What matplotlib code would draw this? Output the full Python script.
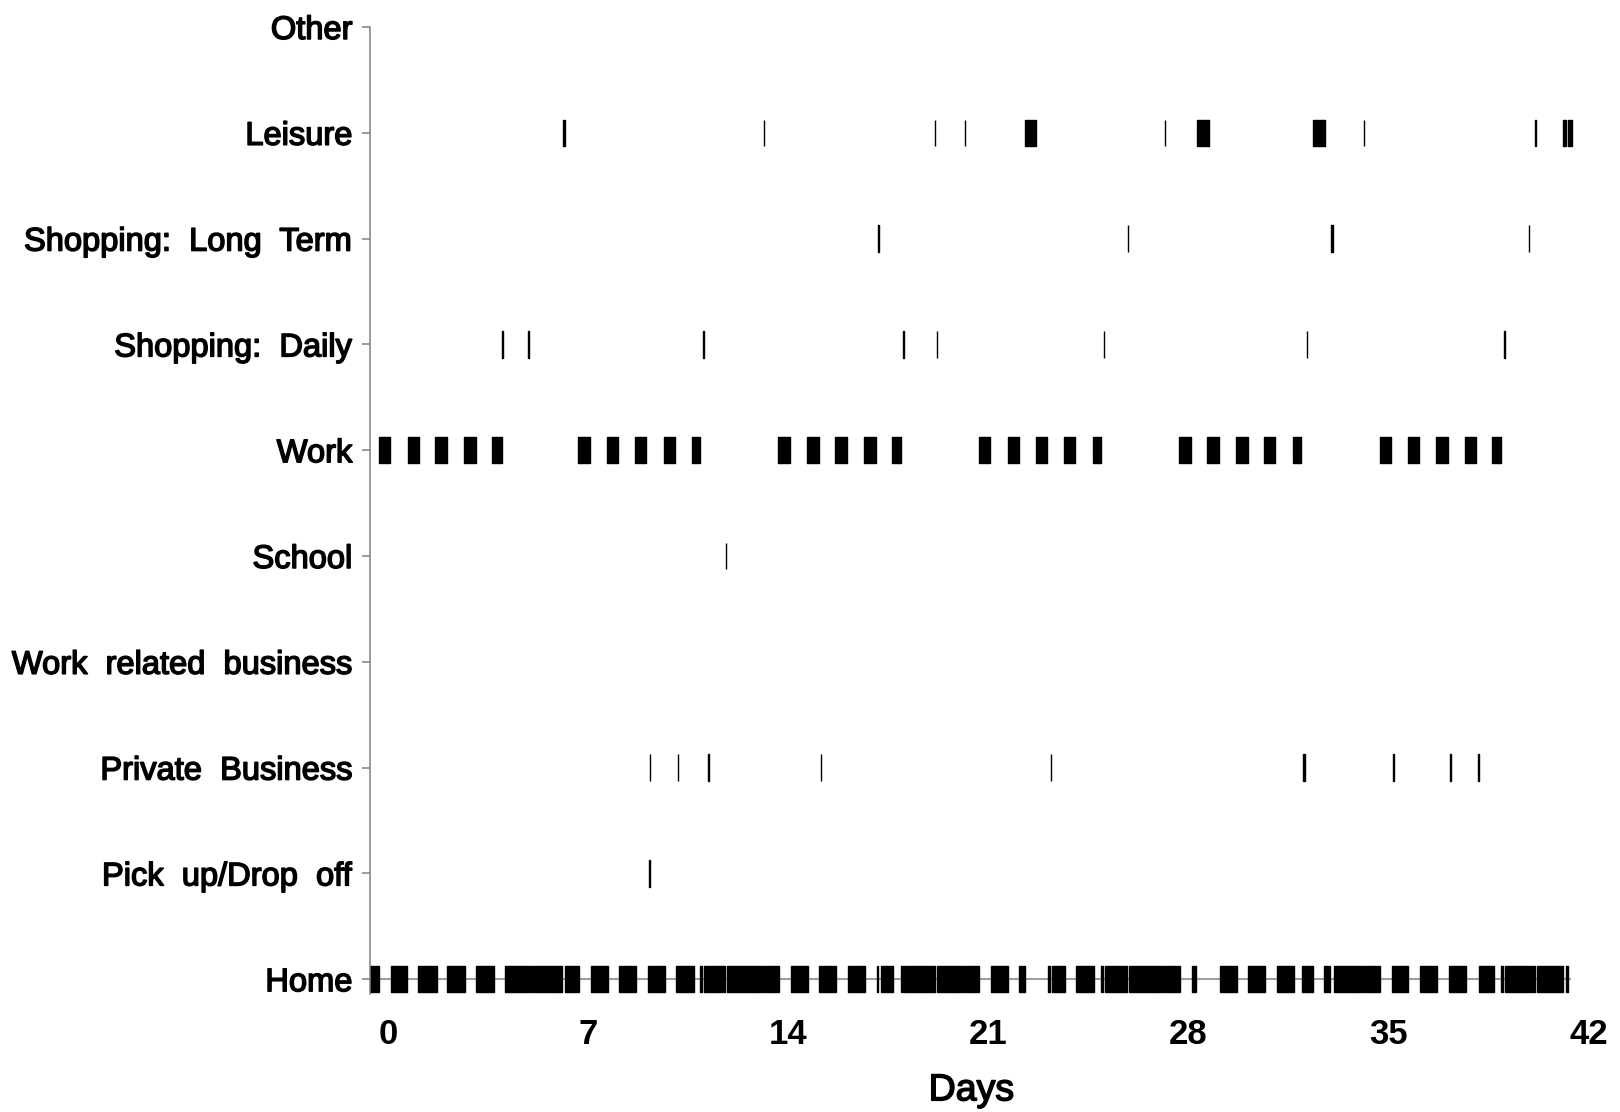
import matplotlib
matplotlib.use("Agg")
import matplotlib.pyplot as plt
import matplotlib.patheffects as pe
from matplotlib.pyplot import rcParams

# activity rows, bottom to top
activities = ["Home", "Pick  up/Drop  off", "Private  Business", "Work  related  business",
              "School", "Work", "Shopping:  Daily", "Shopping:  Long  Term", "Leisure", "Other"]

# episodes as (start, end) in days
home = [(-0.63, -0.30), (0.09, 0.68), (1.06, 1.70), (2.08, 2.69), (3.07, 3.70),
        (4.08, 4.25), (4.25, 4.89), (4.94, 5.78), (5.78, 6.10), (6.19, 6.69),
        (7.09, 7.69), (8.07, 8.69), (9.09, 9.68), (10.08, 10.69), (10.91, 10.99),
        (11.07, 11.80), (11.87, 12.78), (12.78, 13.13), (13.17, 13.67),
        (14.10, 14.69), (15.09, 15.68), (16.10, 16.68), (17.09, 17.13), (17.23, 17.67),
        (17.94, 18.01), (18.06, 18.74), (18.74, 19.13), (19.22, 19.77), (19.77, 20.14),
        (20.20, 20.69), (21.10, 21.68), (22.09, 22.28), (23.09, 23.15), (23.22, 23.69),
        (24.08, 24.69), (24.95, 25.01), (25.07, 25.86), (25.92, 26.75), (26.75, 27.17),
        (27.20, 27.70), (28.11, 28.28), (29.10, 29.70), (30.10, 30.28), (30.28, 30.69),
        (31.10, 31.71), (31.99, 32.04), (32.07, 32.19), (32.19, 32.36), (32.76, 32.97),
        (33.08, 33.75), (33.75, 34.14), (34.17, 34.69), (35.11, 35.70), (36.11, 36.70),
        (37.11, 37.28), (37.28, 37.70), (38.15, 38.69), (38.94, 39.00), (39.09, 39.90),
        (39.95, 40.13), (40.18, 41.10), (41.22, 41.28)]
home_line_end = 41.39

pickup = [(9.13, 9.15)]

private = [(9.15, 9.17), (10.14, 10.16), (11.21, 11.23), (15.14, 15.16), (23.18, 23.20),
           (32.02, 32.08), (35.17, 35.19), (37.15, 37.17), (38.14, 38.16)]

work_business = []

school = [(11.81, 11.83)]

work = [(-0.33, 0.07), (0.69, 1.08), (1.66, 2.06), (2.67, 3.07), (3.65, 3.98),
        (6.65, 7.05), (7.66, 8.06), (8.64, 9.04), (9.65, 10.05), (10.63, 10.91),
        (13.66, 14.06), (14.67, 15.07), (15.65, 16.05), (16.66, 17.06), (17.64, 17.93),
        (20.67, 21.07), (21.68, 22.08), (22.66, 23.06), (23.64, 24.03), (24.65, 24.94),
        (27.68, 28.08), (28.66, 29.06), (29.67, 30.07), (30.65, 31.04), (31.66, 31.95),
        (34.69, 35.09), (35.67, 36.07), (36.68, 37.08), (37.66, 38.06), (38.63, 38.92)]

shop_daily = [(3.99, 4.04), (4.91, 4.93), (11.01, 11.04), (18.02, 18.05), (19.20, 19.22),
              (25.04, 25.06), (32.14, 32.16), (39.04, 39.07)]

shop_long = [(17.15, 17.17), (25.88, 25.90), (33.00, 33.07), (39.91, 39.93)]

leisure = [(6.11, 6.18), (13.14, 13.16), (19.13, 19.15), (20.17, 20.19), (22.28, 22.68),
           (27.17, 27.19), (28.29, 28.71), (32.37, 32.77), (34.14, 34.16), (40.14, 40.16),
           (41.11, 41.21), (41.29, 41.43)]

other = []

rows = [home, pickup, private, work_business, school, work, shop_daily, shop_long, leisure, other]

day_ticks = [0, 7, 14, 21, 28, 35, 42]

rcParams["font.family"] = ["Liberation Sans", "DejaVu Sans"]
grey = "#808080"
heavy = [pe.withStroke(linewidth=1.1, foreground="black")]

fig = plt.figure(figsize=(16.2, 11.12), dpi=100)
ax = fig.add_axes([370 / 1620, 1 - 994 / 1112, 1230 / 1620, 967 / 1112])

ax.hlines(0, -0.63, home_line_end, color=grey, linewidth=1.1, zorder=1)

for i, episodes in enumerate(rows):
    if not episodes:
        continue
    spans = [(s, e - s) for s, e in episodes]
    ax.broken_barh(spans, (i - 0.125, 0.25), facecolor="black", edgecolor="black",
                   linewidth=1.0, zorder=2)

ax.set_xlim(-0.63, 42.4)
ax.set_ylim(-0.14, 9.0)

ax.set_yticks(range(len(activities)))
ax.set_yticklabels(activities, fontsize=23.5, path_effects=heavy)
ax.set_xticks(day_ticks)
ax.set_xticklabels([str(d) for d in day_ticks], fontsize=25,
                   family=["Liberation Sans Narrow", "Liberation Sans"], fontweight="bold")

for s in ["top", "right", "bottom"]:
    ax.spines[s].set_visible(False)
ax.spines["left"].set_color(grey)
ax.spines["left"].set_linewidth(1.1)
ax.tick_params(axis="y", length=5.8, width=1.1, color=grey, pad=7)
ax.tick_params(axis="x", length=0, pad=17)

ax.set_xlabel("Days", fontsize=27, path_effects=heavy)
ax.xaxis.set_label_coords(0.489, -0.081)

plt.savefig("out.png", dpi=100)
